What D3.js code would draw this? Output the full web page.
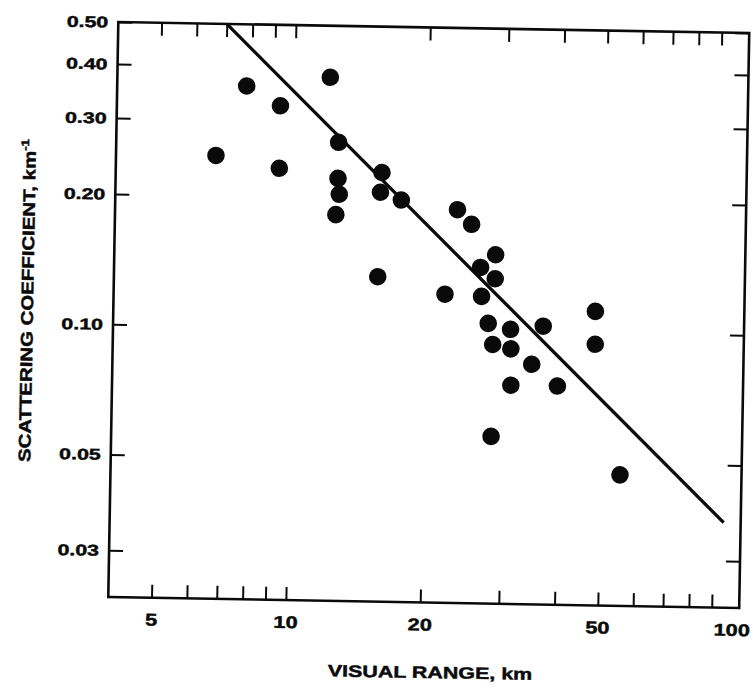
<!DOCTYPE html>
<html>
<head>
<meta charset="utf-8">
<script src="https://cdn.jsdelivr.net/npm/d3@7"></script>
<style>
  body { margin: 0; background: #fff; }
  svg text { font-family: "Liberation Sans", Arial, sans-serif; font-weight: bold; fill: #0a0a0a;
             stroke: #0a0a0a; stroke-width: 0.45; }
</style>
</head>
<body>
<svg id="chart" width="753" height="690"></svg>
<script>
// values
var visualRange = [6.7, 7.8, 9.3, 9.3, 12.0, 12.6, 12.6, 12.7, 12.5, 15.8, 15.7, 17.5, 15.6, 22.1, 23.4, 25.2,
                   28.6, 26.5, 28.6, 26.7, 27.7, 31.1, 36.8, 28.4, 31.2, 48.1, 48.2, 34.8, 31.3, 39.8, 28.4, 55.4];
var scatCoef = [0.248, 0.360, 0.325, 0.233, 0.380, 0.269, 0.222, 0.204, 0.183, 0.230, 0.207, 0.199, 0.132, 0.121, 0.190, 0.176,
                0.150, 0.140, 0.132, 0.120, 0.104, 0.101, 0.103, 0.093, 0.091, 0.112, 0.094, 0.084, 0.075, 0.075, 0.057, 0.047];

// fitted line, end points
var fitRange = [7, 95];
var fitCoef = [0.50, 0.0368];

var xTicks = [5, 6, 7, 8, 9, 10, 20, 30, 40, 50, 60, 70, 80, 90];
var xLabels = [5, 10, 20, 50, 100];
var yTicks = [0.03, 0.05, 0.10, 0.20, 0.30, 0.40, 0.50];

var xTitle = 'VISUAL RANGE, km';
var yTitle = 'SCATTERING COEFFICIENT, km';

// plot box (the scan is tilted about 1 degree)
var boxL = 113.25, boxR = 744.25, boxT = 27.5, boxB = 602.5;
var tilt = 1.0;

var x = d3.scaleLog().domain([4, 103.7]).range([boxL, boxR]);
var y = d3.scaleLog().domain([0.0234, 0.5]).range([boxB, boxT]);

var svg = d3.select('#chart');
var g = svg.append('g')
  .attr('transform', 'rotate(' + tilt + ',' + (boxL + boxR) / 2 + ',' + (boxT + boxB) / 2 + ')');

function ticks(axis, pos, size) {
  var a = g.append('g')
    .attr('transform', pos)
    .call(axis.tickSize(-size).tickFormat(''));
  a.select('.domain').remove();
  a.selectAll('.tick line').attr('stroke', '#0a0a0a').attr('stroke-width', 2);
}

ticks(d3.axisBottom(x).tickValues(xTicks), 'translate(0,' + boxB + ')', 13);
ticks(d3.axisTop(x).tickValues(xTicks), 'translate(0,' + boxT + ')', 13);
ticks(d3.axisLeft(y).tickValues(yTicks), 'translate(' + boxL + ',0)', 14);
ticks(d3.axisRight(y).tickValues(yTicks), 'translate(' + boxR + ',0)', 14);

// frame
g.append('rect')
  .attr('x', boxL).attr('y', boxT)
  .attr('width', boxR - boxL).attr('height', boxB - boxT)
  .attr('fill', 'none')
  .attr('stroke', '#0a0a0a')
  .attr('stroke-width', 2.6);

// tick labels (the original type is wide, so stretch it)
g.selectAll('.xlab')
  .data(xLabels)
  .enter().append('text')
  .attr('class', 'xlab')
  .attr('transform', function(d) { return 'translate(' + x(d) + ',' + (boxB + 28) + ') scale(1.28,1)'; })
  .attr('text-anchor', 'middle')
  .attr('font-size', 17)
  .text(function(d) { return d; });

g.selectAll('.ylab')
  .data(yTicks)
  .enter().append('text')
  .attr('class', 'ylab')
  .attr('transform', function(d) { return 'translate(' + (boxL - 10) + ',' + y(d) + ') scale(1.38,1)'; })
  .attr('text-anchor', 'end')
  .attr('dy', '0.36em')
  .attr('font-size', 15.5)
  .text(function(d) { return d3.format('.2f')(d); });

// axis titles
g.append('text')
  .attr('transform', 'translate(334,678) scale(1.3,1)')
  .attr('font-size', 16.5)
  .text(xTitle);

var yt = g.append('text')
  .attr('transform', 'translate(33,469) rotate(-90) scale(1.2,1)')
  .attr('font-size', 17)
  .text(yTitle);
yt.append('tspan')
  .attr('dy', -7)
  .attr('font-size', 11)
  .text('-1');

// fitted line
var line = d3.line()
  .x(function(d) { return x(d[0]); })
  .y(function(d) { return y(d[1]); });

g.append('path')
  .datum(d3.zip(fitRange, fitCoef))
  .attr('d', line)
  .attr('fill', 'none')
  .attr('stroke', '#0a0a0a')
  .attr('stroke-width', 3.3);

// observations
g.selectAll('circle')
  .data(d3.zip(visualRange, scatCoef))
  .enter().append('circle')
  .attr('cx', function(d) { return x(d[0]); })
  .attr('cy', function(d) { return y(d[1]); })
  .attr('r', 8.8)
  .attr('fill', '#0a0a0a');
</script>
</body>
</html>
